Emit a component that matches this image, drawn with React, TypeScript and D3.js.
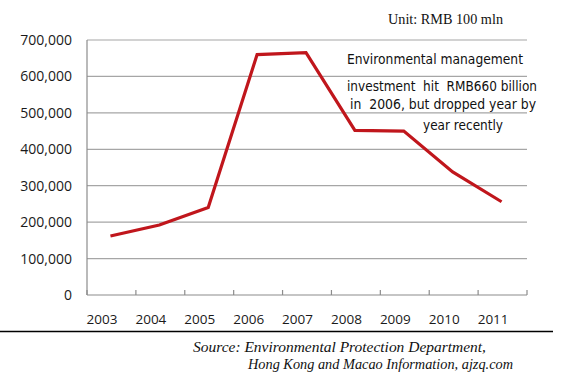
import React from "react";
import * as d3 from "d3";

const years = ["2003", "2004", "2005", "2006", "2007", "2008", "2009", "2010", "2011"];
const investment = [162000, 192000, 240000, 660000, 665000, 452000, 450000, 338000, 256000];
const yTicks = [0, 100000, 200000, 300000, 400000, 500000, 600000, 700000];
const noteLines = [
  "Environmental management",
  "investment  hit  RMB660 billion",
  "in  2006, but dropped year by",
  "year recently",
];
const unitText = "Unit: RMB 100 mln";
const sourceLines = [
  "Source: Environmental Protection Department,",
  "Hong Kong and Macao Information, ajzq.com",
];

export default function App() {
  const W = 569, H = 381;
  const left = 87, right = 527, top = 40, bottom = 295;
  const x = d3.scaleBand<string>().domain(years).range([left, right]).padding(0);
  const y = d3.scaleLinear().domain([0, 700000]).range([bottom, top]);
  const line = d3
    .line<number>()
    .x((_, i) => (x(years[i]) as number) + x.bandwidth() / 2 - 1)
    .y((d) => y(d));
  const fmt = d3.format(",");
  const sans = "'Open Sans', 'DejaVu Sans', sans-serif";
  const noteFont = "'DejaVu Sans', Verdana, sans-serif";
  const serif = "'Liberation Serif', 'Times New Roman', serif";
  const notePos = [
    { x: 347, y: 64, len: 176 },
    { x: 347, y: 91, len: 190 },
    { x: 350, y: 109, len: 186 },
    { x: 423, y: 130, len: 80 },
  ];
  const tickXs = years.map((yr) => x(yr) as number).concat([right]);
  return (
    <svg width={W} height={H} style={{ position: "absolute", left: 0, top: 0, background: "#fff" }}>
      <rect x={0} y={0} width={W} height={H} fill="#fff" />
      {yTicks.map((t) => (
        <g key={t}>
          {t > 0 && (
            <line x1={left} x2={right} y1={y(t)} y2={y(t)} stroke="#a6a6a6" strokeWidth={1.2} />
          )}
          <text
            x={72}
            y={y(t)}
            dy="0.36em"
            textAnchor="end"
            fontFamily={sans}
            fontSize={14}
            fill="#1a1a1a"
          >
            {fmt(t)}
          </text>
        </g>
      ))}
      <line x1={left} x2={left} y1={top} y2={bottom} stroke="#8c8c8c" strokeWidth={1.2} />
      <line x1={left} x2={right} y1={bottom} y2={bottom} stroke="#8c8c8c" strokeWidth={1.2} />
      {tickXs.map((tx, i) => (
        <line key={i} x1={tx} x2={tx} y1={bottom} y2={bottom - 5} stroke="#8c8c8c" strokeWidth={1.2} />
      ))}
      {years.map((yr) => (
        <text
          key={yr}
          x={(x(yr) as number) + 15}
          y={324}
          textAnchor="middle"
          fontFamily={sans}
          fontSize={13.5}
          fill="#1a1a1a"
        >
          {yr}
        </text>
      ))}
      <path d={line(investment) || ""} fill="none" stroke="#c0161c" strokeWidth={3.2} strokeLinejoin="miter" />
      {noteLines.map((s, i) => (
        <text
          key={i}
          x={notePos[i].x}
          y={notePos[i].y}
          fontFamily={noteFont}
          fontSize={14}
          fill="#111"
          textLength={notePos[i].len}
          lengthAdjust="spacingAndGlyphs"
          xmlSpace="preserve"
          style={{ whiteSpace: "pre" }}
        >
          {s}
        </text>
      ))}
      <text x={388} y={24} fontFamily={serif} fontSize={15} fill="#111" textLength={115} lengthAdjust="spacingAndGlyphs">
        {unitText}
      </text>
      <line x1={0} x2={553} y1={331.5} y2={331.5} stroke="#000" strokeWidth={1.5} />
      <text x={193} y={352} fontFamily={serif} fontStyle="italic" fontSize={15} fill="#111" textLength={293} lengthAdjust="spacingAndGlyphs">
        {sourceLines[0]}
      </text>
      <text x={248} y={369} fontFamily={serif} fontStyle="italic" fontSize={15} fill="#111" textLength={265} lengthAdjust="spacingAndGlyphs">
        {sourceLines[1]}
      </text>
    </svg>
  );
}
